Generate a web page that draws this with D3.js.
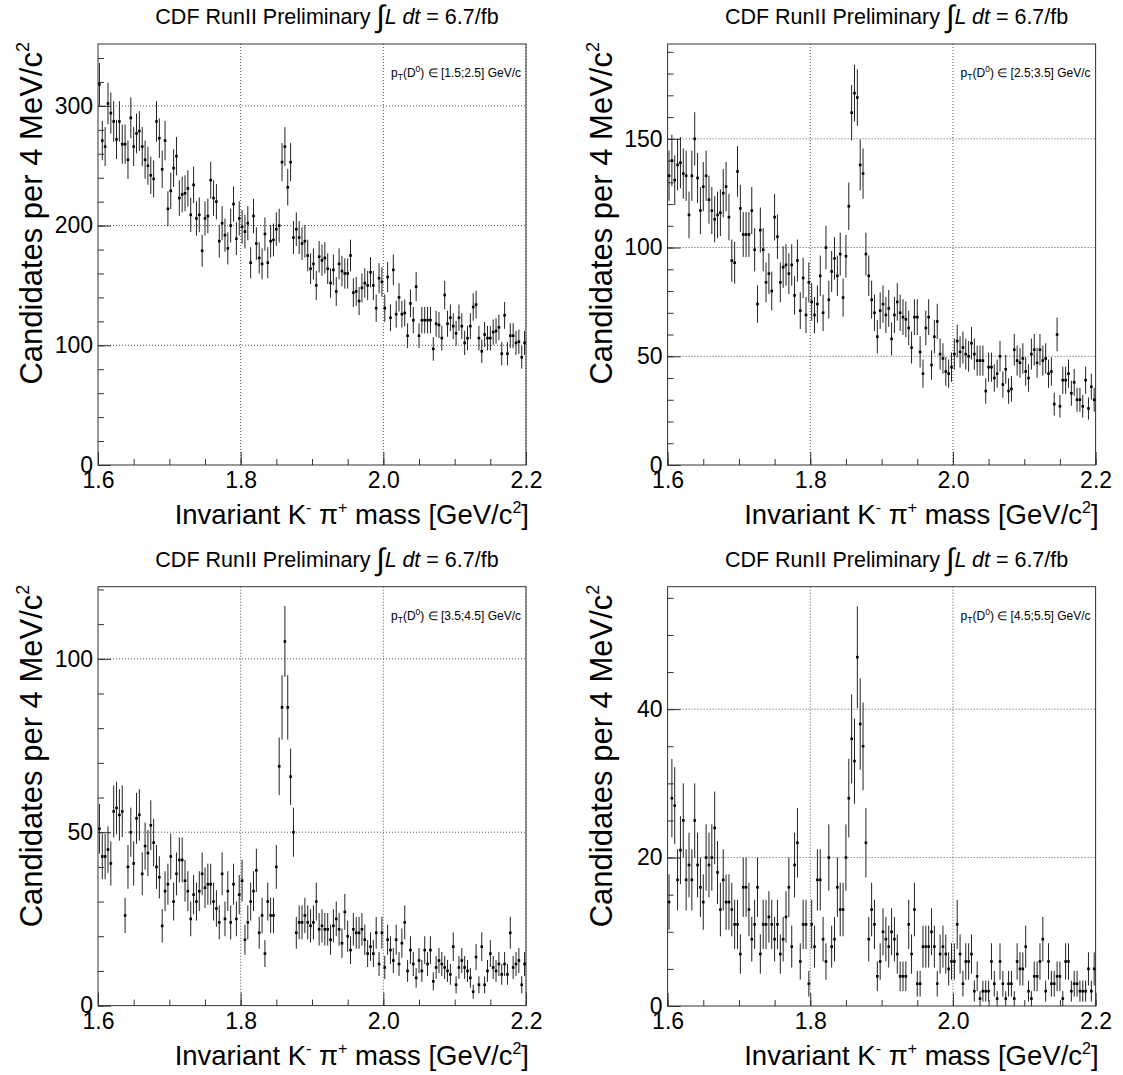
<!DOCTYPE html>
<html>
<head>
<meta charset="utf-8">
<title>CDF D0 mass spectra in pT bins</title>
<script src="https://cdn.jsdelivr.net/npm/d3@7"></script>
<style>
  body { margin: 0; background: #fff; }
  text { font-family: "Liberation Sans", Arial, sans-serif; fill: #000; }
</style>
</head>
<body>
<div id="container"></div>
<script>

// histogram binning: 150 bins of 4 MeV between 1.6 and 2.2 GeV/c^2
const massMin = 1.6;
const binWidth = 0.004;
const xTicks = [1.6, 1.8, 2.0, 2.2];

// candidates per bin
const counts_15_25 = [318,271,266,302,294,287,272,287,268,268,255,290,266,277,279,266,255,250,242,239,
  287,273,247,271,214,229,248,258,223,226,227,231,209,234,206,209,179,206,208,238,
  223,220,187,202,192,181,200,218,189,206,199,195,202,169,208,185,173,168,193,169,
  187,188,197,200,253,266,232,253,190,197,190,185,187,175,164,168,150,174,171,173,
  164,152,163,145,168,162,160,160,175,144,145,137,148,152,150,161,150,131,156,153,
  131,157,123,163,126,140,126,127,108,135,121,149,108,121,121,121,121,97,118,117,
  106,142,118,123,116,110,123,116,102,106,116,132,134,106,95,109,106,106,111,112,
  115,93,125,93,108,108,102,103,90,102];

const counts_25_35 = [133,140,131,138,139,134,133,115,133,150,132,117,128,133,122,117,113,115,116,125,
  128,114,94,93,135,118,106,106,106,117,99,74,108,99,84,88,80,114,105,84,
  91,92,88,92,78,94,71,86,69,84,75,69,74,87,70,100,76,89,95,87,
  97,77,96,119,162,171,169,138,134,97,87,76,70,59,71,74,69,72,58,69,
  75,70,68,67,63,54,68,68,52,42,63,68,46,59,66,51,49,43,42,45,
  51,57,52,54,51,50,56,51,48,48,48,34,45,45,40,42,50,37,44,34,
  35,53,48,47,49,43,40,51,53,47,53,48,49,42,43,28,60,27,39,39,
  42,33,38,30,30,27,39,26,36,30];

const counts_35_45 = [51,43,43,45,41,56,57,55,56,26,40,50,41,54,55,38,46,44,52,47,
  40,37,23,33,35,43,30,38,42,42,36,33,25,32,30,33,38,34,35,35,
  30,28,24,38,25,33,24,35,25,32,36,19,24,30,33,39,21,26,15,30,
  26,26,40,69,86,105,86,66,50,21,24,24,26,24,23,24,30,22,23,22,
  22,19,23,25,22,18,27,20,16,22,21,21,22,19,15,17,15,21,12,21,
  11,19,16,13,19,12,18,24,10,16,12,8,13,10,16,12,16,7,11,13,
  12,11,10,9,17,6,11,13,11,10,8,4,14,6,17,6,10,15,11,10,
  12,9,12,9,21,11,12,13,6,12];

const counts_45_55 = [14,28,27,17,21,25,17,19,17,25,19,16,14,20,19,20,24,18,13,17,
  14,14,13,11,11,7,16,16,13,9,11,16,7,11,11,12,11,9,11,7,
  9,12,16,8,19,22,6,11,11,3,11,8,17,17,9,6,20,8,9,16,
  13,13,20,28,36,33,47,38,35,22,9,13,11,4,6,10,9,8,10,9,
  7,4,4,4,11,7,13,3,3,8,8,8,10,8,3,7,8,7,5,6,
  6,11,7,3,6,6,7,2,4,1,2,2,2,6,3,1,6,3,1,3,
  3,1,6,5,5,8,2,1,4,4,6,9,2,6,3,3,4,4,1,6,
  6,2,3,3,2,2,2,5,2,5];

const yTicks_15_25 = [0, 100, 200, 300];
const yTicks_25_35 = [0, 50, 100, 150];
const yTicks_35_45 = [0, 50, 100];
const yTicks_45_55 = [0, 20, 40];

const ptRanges = ["[1.5;2.5]", "[2.5;3.5]", "[3.5;4.5]", "[4.5;5.5]"];

const panels = [
  { counts: counts_15_25, ticks: yTicks_15_25, minor: 20, yMax: 351.7, pt: ptRanges[0], left: 98, top: 44, bottom: 465 },
  { counts: counts_25_35, ticks: yTicks_25_35, minor: 10, yMax: 193.6, pt: ptRanges[1], left: 667.6, top: 44, bottom: 465 },
  { counts: counts_35_45, ticks: yTicks_35_45, minor: 10, yMax: 120.8, pt: ptRanges[2], left: 98, top: 586.7, bottom: 1005.6 },
  { counts: counts_45_55, ticks: yTicks_45_55, minor: 5, yMax: 56.5, pt: ptRanges[3], left: 667.6, top: 586.7, bottom: 1006 }
];
const plotWidth = 428;

const svg = d3.select("#container")
  .append("svg")
  .attr("width", 1123)
  .attr("height", 1075);

panels.forEach(function (p) {
  const right = p.left + plotWidth;
  const g = svg.append("g");

  const x = d3.scaleLinear().domain([1.6, 2.2]).range([p.left, right]);
  const y = d3.scaleLinear().domain([0, p.yMax]).range([p.bottom, p.top]);

  // grid
  g.append("g").selectAll("line")
    .data(xTicks.slice(1))
    .enter().append("line")
    .attr("x1", d => x(d)).attr("x2", d => x(d))
    .attr("y1", p.top).attr("y2", p.bottom)
    .attr("stroke", "#555").attr("stroke-width", 1)
    .attr("stroke-dasharray", "1,2");
  g.append("g").selectAll("line")
    .data(p.ticks.slice(1))
    .enter().append("line")
    .attr("x1", p.left).attr("x2", right)
    .attr("y1", d => y(d)).attr("y2", d => y(d))
    .attr("stroke", "#555").attr("stroke-width", 1)
    .attr("stroke-dasharray", "1,2");

  // frame
  g.append("rect")
    .attr("x", p.left).attr("y", p.top)
    .attr("width", plotWidth).attr("height", p.bottom - p.top)
    .attr("fill", "none").attr("stroke", "#333").attr("stroke-width", 1);

  // x axis: major + minor ticks pointing inward
  const xMinor = d3.range(1.6, 2.2001, 0.05);
  g.append("g")
    .attr("transform", "translate(0," + p.bottom + ")")
    .call(d3.axisBottom(x).tickValues(xMinor).tickFormat("").tickSizeInner(-6).tickSizeOuter(0))
    .call(a => a.select(".domain").remove());
  g.append("g")
    .attr("transform", "translate(0," + p.bottom + ")")
    .call(d3.axisBottom(x).tickValues(xTicks).tickFormat(d3.format(".1f")).tickSizeInner(-13).tickSizeOuter(0).tickPadding(7))
    .call(a => a.select(".domain").remove())
    .call(a => a.selectAll("text").attr("font-size", 23).attr("font-family", "Liberation Sans, Arial, sans-serif"));

  // y axis
  const yMinor = d3.range(0, p.yMax, p.minor);
  g.append("g")
    .attr("transform", "translate(" + p.left + ",0)")
    .call(d3.axisLeft(y).tickValues(yMinor).tickFormat("").tickSizeInner(-6).tickSizeOuter(0))
    .call(a => a.select(".domain").remove());
  g.append("g")
    .attr("transform", "translate(" + p.left + ",0)")
    .call(d3.axisLeft(y).tickValues(p.ticks).tickFormat(d3.format("d")).tickSizeInner(-13).tickSizeOuter(0).tickPadding(5))
    .call(a => a.select(".domain").remove())
    .call(a => a.selectAll("text").attr("font-size", 23).attr("font-family", "Liberation Sans, Arial, sans-serif"));

  g.selectAll(".tick line").attr("stroke", "#333");

  // data points with sqrt(N) error bars
  const pts = p.counts.map((c, i) => ({ m: massMin + (i + 0.5) * binWidth, n: c }));
  g.append("g").selectAll("line")
    .data(pts)
    .enter().append("line")
    .attr("x1", d => x(d.m)).attr("x2", d => x(d.m))
    .attr("y1", d => y(Math.min(p.yMax, d.n + Math.sqrt(d.n))))
    .attr("y2", d => y(Math.max(0, d.n - Math.sqrt(d.n))))
    .attr("stroke", "#222").attr("stroke-width", 1);
  g.append("g").selectAll("rect")
    .data(pts)
    .enter().append("rect")
    .attr("x", d => x(d.m) - 1.3).attr("y", d => y(d.n) - 1.3)
    .attr("width", 2.6).attr("height", 2.6)
    .attr("fill", "#000");

  // title
  const cx = (p.left + right) / 2 + 15;
  const title = g.append("text")
    .attr("x", cx).attr("y", p.top - 20)
    .attr("text-anchor", "middle")
    .attr("font-size", 21.5);
  title.append("tspan").text("CDF RunII Preliminary ");
  title.append("tspan").attr("font-size", 31).attr("dy", 3).text("\u222B");
  title.append("tspan").attr("font-style", "italic").attr("dy", -3).text("L dt");
  title.append("tspan").text(" = 6.7/fb");

  // pT range label
  const lab = g.append("text")
    .attr("x", p.left + 293).attr("y", p.top + 33)
    .attr("font-size", 12);
  lab.append("tspan").text("p");
  lab.append("tspan").attr("font-size", 8.5).attr("dy", 3).text("T");
  lab.append("tspan").attr("dy", -3).text("(D");
  lab.append("tspan").attr("font-size", 8.5).attr("dy", -5).text("0");
  lab.append("tspan").attr("dy", 5).text(") \u2208 " + p.pt + " GeV/c");

  // x title
  const xt = g.append("text")
    .attr("x", right + 3).attr("y", p.bottom + 59)
    .attr("text-anchor", "end")
    .attr("font-size", 27.5);
  xt.append("tspan").text("Invariant K");
  xt.append("tspan").attr("font-size", 16).attr("dy", -11).text("-");
  xt.append("tspan").attr("dy", 11).text(" \u03C0");
  xt.append("tspan").attr("font-size", 16).attr("dy", -11).text("+");
  xt.append("tspan").attr("dy", 11).text(" mass [GeV/c");
  xt.append("tspan").attr("font-size", 16).attr("dy", -11).text("2");
  xt.append("tspan").attr("dy", 11).text("]");

  // y title
  const yt = g.append("text")
    .attr("transform", "translate(" + (p.left - 56) + "," + (p.top - 2) + ") rotate(-90)")
    .attr("text-anchor", "end")
    .attr("font-size", 31);
  yt.append("tspan").text("Candidates per 4 MeV/c");
  yt.append("tspan").attr("font-size", 18).attr("dy", -13).text("2");
});

</script>
</body>
</html>
